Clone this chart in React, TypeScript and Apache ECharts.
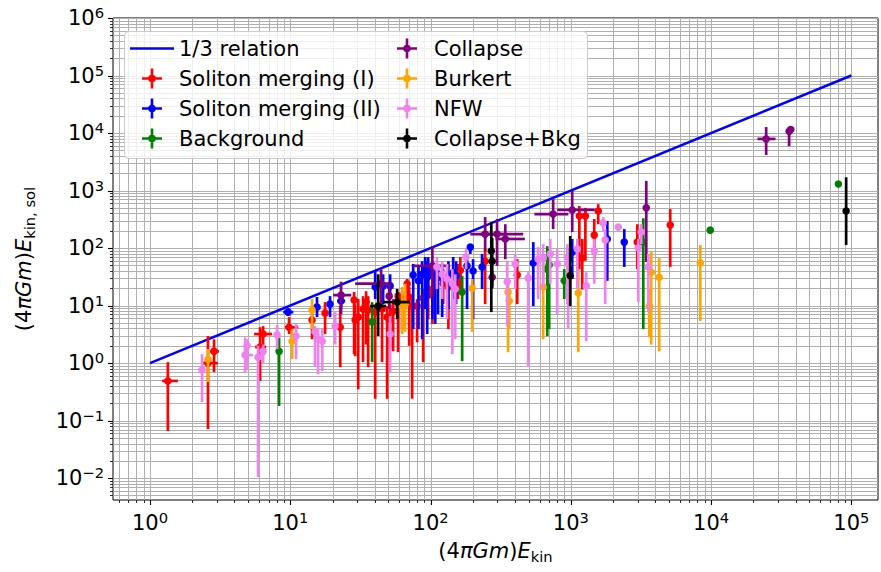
import React, { useEffect, useRef } from "react";
import * as echarts from "echarts";

// Each point: [x, y, yLow, yHigh, xLow?, xHigh?]
const relationX = [1, 100000];
const relationY = [1, 100000];

const solitonMergingI: number[][] = [
  [1.34, 0.49, 0.066, 1.04, 1.22, 1.58],
  [2.59, 1.0, 0.071, 2.95, 2.39, 3.05],
  [2.86, 1.6, 0.7, 2.6, 2.68, 3.1],
  [6.09, 1.9, 0.49, 4.2, 5.61, 6.72],
  [6.4, 3.2, 2.0, 4.4, 5.52, 7.42],
  [9.8, 4.2, 3.2, 6.3, 9.18, 11.4],
  [14.3, 5.6, 2.6, 8.7],
  [17.7, 7.4, 3.2, 11.5],
  [22.7, 4.2, 0.85, 9.8],
  [28.5, 12.5, 1.43, 17.2],
  [29.0, 5.6, 1.32, 10.6],
  [30.5, 6.3, 0.35, 13.0],
  [33.0, 8.7, 1.04, 14.6],
  [34.7, 11.5, 2.1, 17.8],
  [35.9, 8.4, 0.85, 14.6],
  [40.3, 7.7, 0.24, 9.8],
  [45.1, 8.7, 1.04, 13.0],
  [49.0, 6.3, 0.24, 9.8],
  [51.5, 5.8, 1.75, 10.6],
  [54.1, 8.0, 1.6, 13.0],
  [58.7, 14.6, 1.55, 17.2],
  [62.7, 13.0, 3.9, 17.8],
  [68.1, 24, 9.8, 29],
  [70.4, 14.1, 2.0, 21],
  [73.9, 9.8, 0.24, 13.0],
  [80.2, 9.8, 2.3, 13.0],
  [88.5, 13.5, 1.04, 19.4],
  [96.1, 19.4, 5.8, 35],
  [103, 15.2, 4.8, 24],
  [123, 24, 10.6, 43],
  [134, 21, 3.9, 35],
  [157, 33, 13.0, 53],
  [163, 41, 19.4, 70],
  [245, 59, 10.6, 96],
  [415, 34, 10.6, 64],
  [1150, 360, 43, 540],
  [1270, 360, 60, 500],
  [1206, 67, 19, 144],
  [1469, 168, 64, 320],
  [1568, 440, 260, 580],
  [2977, 127, 43, 260],
  [5113, 251, 47, 477],
];

const solitonMergingII: number[][] = [
  [9.64, 7.7, 6.6, 9.1, 8.9, 10.5],
  [15.5, 9.4, 6.3, 14.1],
  [19.2, 10.6, 6.3, 14.6],
  [23, 12.0, 8.7, 15.2, 21.6, 24.6],
  [40.3, 21, 13.0, 40],
  [45.9, 22, 10.6, 35],
  [51.5, 22, 13.0, 35],
  [75.2, 34, 3.9, 53],
  [82, 27, 3.9, 47],
  [87.1, 35, 2.6, 59],
  [91.5, 43, 8.7, 70],
  [94.6, 31, 3.2, 59],
  [96.1, 40, 13.0, 70],
  [103, 33, 5.8, 59],
  [108, 27, 4.8, 47],
  [113, 35, 7.1, 53],
  [121, 30, 6.3, 53],
  [134, 33, 8.7, 59],
  [145, 38, 13.0, 70],
  [152, 33, 10.6, 59],
  [182, 49, 8.7, 79],
  [192, 104, 79, 118],
  [201, 40, 5.8, 64],
  [233, 47, 19.4, 79],
  [540, 55, 9.8, 127],
  [1023, 85, 29, 144],
  [1820, 144, 27, 295],
  [2405, 127, 47, 214],
];

const background: number[][] = [
  [8.32, 1.6, 0.18, 2.8],
  [38.3, 5.2, 1.04, 11.5],
  [168, 17.2, 1.08, 33],
  [679, 43, 2.95, 108],
  [701, 51, 3.9, 96],
  [897, 27, 13.0, 43],
  [3284, 127, 3.9, 330],
  [9862, 205, 190, 220],
  [80800, 1300, 1200, 1400],
];

const collapse: number[][] = [
  [23, 15.2, 7.1, 26, 20.2, 27.2],
  [44.4, 24, 9.8, 43, 29, 51.5],
  [50.7, 14.6, 8.7, 26],
  [103, 49, 14.6, 108, 75.2, 138],
  [245, 175, 89, 346, 192, 352],
  [298, 175, 49, 320, 226, 458],
  [341, 144, 64, 260, 290, 470],
  [275, 31, 22, 40],
  [748, 390, 214, 710, 550, 960],
  [1023, 460, 190, 980, 800, 1480],
  [3451, 500, 57, 1470],
  [24700, 7900, 4160, 12700, 21400, 28800],
  [36000, 10700, 5900, 12700],
  [37000, 11500, 10000, 12700],
];

const burkert: number[][] = [
  [2.59, 1.17, 0.47, 1.75],
  [10.3, 2.4, 1.17, 3.9],
  [14.3, 8.4, 3.9, 13.0],
  [62.7, 9.8, 3.2, 21],
  [65.9, 10.6, 3.5, 24],
  [198, 20, 3.5, 29],
  [357, 17.2, 1.55, 26],
  [364, 12.0, 3.9, 19.4],
  [635, 21, 2.6, 64],
  [1130, 16.5, 1.55, 43],
  [3623, 9.8, 2.8, 19.4],
  [3743, 38, 2.1, 89],
  [4268, 31, 1.6, 67],
  [8375, 55, 5.4, 113],
];

const nfw: number[][] = [
  [2.35, 0.76, 0.21, 1.43],
  [4.76, 1.38, 0.7, 2.8, 4.53, 5.43],
  [4.92, 2.0, 0.79, 2.6],
  [5.89, 1.27, 0.0104, 2.0],
  [6.4, 1.6, 1.0, 2.1],
  [8.05, 3.1, 1.75, 4.6],
  [11.0, 2.95, 1.17, 4.8],
  [15.0, 3.5, 0.89, 4.4],
  [15.8, 2.6, 0.64, 3.9],
  [16.9, 2.4, 0.73, 3.9],
  [20.9, 4.4, 2.1, 7.7],
  [51.5, 3.2, 0.7, 6.6],
  [111, 47, 19.4, 70],
  [121, 35, 13.0, 59],
  [131, 29, 5.8, 53],
  [143, 24, 1.43, 43],
  [150, 19.4, 2.6, 35],
  [179, 70, 43, 96],
  [352, 26, 4.4, 59],
  [401, 53, 19.4, 79],
  [497, 30, 0.89, 38],
  [585, 64, 13.0, 104],
  [635, 67, 19.4, 117],
  [713, 79, 24, 144],
  [800, 53, 7.1, 96],
  [943, 70, 10.6, 117],
  [958, 53, 3.9, 96],
  [1112, 96, 19.4, 144],
  [1288, 22, 2.4, 38],
  [1469, 89, 24, 144],
  [1702, 272, 196, 346],
  [1758, 138, 10.6, 214],
  [2178, 232, 200, 260],
  [3027, 100, 11.5, 144],
  [3177, 190, 117, 261],
  [3565, 47, 7.7, 79],
];

const collapseBkg: number[][] = [
  [42.3, 9.8, 2.95, 35, 37.1, 48.2],
  [57.8, 11.5, 5.8, 19.4, 45.9, 71.5],
  [271, 89, 7.7, 283],
  [275, 59, 20, 150],
  [990, 33, 9.8, 162],
  [91800, 440, 113, 1700],
];

const xTickExponents = [0, 1, 2, 3, 4, 5];
const yTickExponents = [-2, -1, 0, 1, 2, 3, 4, 5, 6];

const FONT = "DejaVu Sans";
const FS = 21;
const FS_SMALL = 14.7;
const X_RANGE = [-0.264, 5.19];
const Y_RANGE = [-2.38, 6];

const lg = Math.log10;

function toLog(p: number[]) {
  const [x, y, ylo, yhi, xlo, xhi] = p;
  return [lg(x), lg(y), lg(ylo), lg(yhi), lg(xlo ?? x), lg(xhi ?? x)];
}

const errorSeriesDefs = [
  { name: "Soliton merging (I)", color: "#ff0000", data: solitonMergingI },
  { name: "Soliton merging (II)", color: "#0000ff", data: solitonMergingII },
  { name: "Background", color: "#008000", data: background },
  { name: "Collapse", color: "#800080", data: collapse },
  { name: "Burkert", color: "#ffa500", data: burkert },
  { name: "NFW", color: "#ee82ee", data: nfw },
  { name: "Collapse+Bkg", color: "#000000", data: collapseBkg },
];

const CROSS_ICON =
  "path://M0,8.7L20,8.7L20,11.3L0,11.3Z M8.7,0L11.3,0L11.3,20L8.7,20Z M13.8,10A3.8,3.8,0,1,1,6.2,10A3.8,3.8,0,1,1,13.8,10Z";
const LINE_ICON = "path://M0,0L44,0L44,2.5L0,2.5Z";

const crisp = (v: number) => Math.round(v) + 0.5;

function majorLogs(lo: number, hi: number) {
  const out: number[] = [];
  for (let d = Math.ceil(lo); d <= Math.floor(hi); d++) out.push(d);
  return out;
}
function minorLogs(lo: number, hi: number) {
  const out: number[] = [];
  for (let d = Math.floor(lo); d <= Math.ceil(hi); d++) {
    for (let k = 2; k <= 9; k++) {
      const v = d + Math.log10(k);
      if (v > lo && v < hi) out.push(v);
    }
  }
  return out;
}

function gridRender(params: any, api: any) {
  if (params.dataIndex !== 0) return null;
  const children: any[] = [];
  const [x0, x1] = X_RANGE;
  const [y0, y1] = Y_RANGE;
  const gridStyle = { stroke: "#b0b0b0", lineWidth: 1 };
  const xs = [...minorLogs(x0, x1), ...majorLogs(x0, x1)];
  const ys = [...minorLogs(y0, y1), ...majorLogs(y0, y1)];
  xs.forEach((v) => {
    const a = api.coord([v, y0]);
    const b = api.coord([v, y1]);
    const x = crisp(a[0]);
    children.push({ type: "line", shape: { x1: x, y1: a[1], x2: x, y2: b[1] }, style: gridStyle });
  });
  ys.forEach((v) => {
    const a = api.coord([x0, v]);
    const b = api.coord([x1, v]);
    const y = crisp(a[1]);
    children.push({ type: "line", shape: { x1: a[0], y1: y, x2: b[0], y2: y }, style: gridStyle });
  });
  const addXTick = (v: number, len: number, w: number) => {
    const a = api.coord([v, y0]);
    const x = crisp(a[0]);
    children.push({ type: "line", shape: { x1: x, y1: a[1], x2: x, y2: a[1] + len }, style: { stroke: "#000", lineWidth: w } });
  };
  const addYTick = (v: number, len: number, w: number) => {
    const a = api.coord([x0, v]);
    const y = crisp(a[1]);
    children.push({ type: "line", shape: { x1: a[0] - len, y1: y, x2: a[0], y2: y }, style: { stroke: "#000", lineWidth: w } });
  };
  minorLogs(x0, x1).forEach((v) => addXTick(v, 3, 0.8));
  majorLogs(x0, x1).forEach((v) => addXTick(v, 5, 1.1));
  minorLogs(y0, y1).forEach((v) => addYTick(v, 3, 0.8));
  majorLogs(y0, y1).forEach((v) => addYTick(v, 5, 1.1));
  return { type: "group", children };
}

function makeErrRender(color: string) {
  return (params: any, api: any) => {
    const x = api.value(0);
    const y = api.value(1);
    const ylo = api.value(2);
    const yhi = api.value(3);
    const xlo = api.value(4);
    const xhi = api.value(5);
    const c = api.coord([x, y]);
    const lo = api.coord([x, ylo]);
    const hi = api.coord([x, yhi]);
    const children: any[] = [
      {
        type: "line",
        shape: { x1: c[0], y1: lo[1], x2: c[0], y2: hi[1] },
        style: { stroke: color, lineWidth: 2.7 },
      },
    ];
    if (xhi - xlo > 1e-9) {
      const a = api.coord([xlo, y]);
      const b = api.coord([xhi, y]);
      children.push({
        type: "line",
        shape: { x1: a[0], y1: c[1], x2: b[0], y2: c[1] },
        style: { stroke: color, lineWidth: 2.7 },
      });
    }
    children.push({ type: "circle", shape: { cx: c[0], cy: c[1], r: 3.8 }, style: { fill: color } });
    return { type: "group", children };
  };
}

const supFormatter = (v: number) => {
  const e = Math.round(v);
  const s = e < 0 ? "\u2212" + Math.abs(e) : String(e);
  return "10{sup|" + s + "}";
};

const labelRich = {
  sup: { fontSize: FS_SMALL, lineHeight: 16, verticalAlign: "top", fontFamily: FONT, color: "#000" },
};

const nameRich = {
  n: { fontSize: FS, lineHeight: 26, fontFamily: FONT, color: "#000" },
  i: { fontSize: FS, lineHeight: 26, fontFamily: FONT, fontStyle: "italic", color: "#000" },
  s: { fontSize: FS_SMALL, lineHeight: 14, fontFamily: FONT, color: "#000", verticalAlign: "bottom" },
};

const legendText = { fontSize: FS, fontFamily: FONT, color: "#000", lineHeight: 20 };

function buildOption() {
  return {
    animation: false,
    backgroundColor: "#ffffff",
    grid: {
      left: 113,
      right: 3,
      top: 18,
      bottom: 72,
      show: true,
      borderColor: "#000",
      borderWidth: 1,
      backgroundColor: "transparent",
    },
    xAxis: {
      type: "value",
      min: X_RANGE[0],
      max: X_RANGE[1],
      axisLine: { show: false },
      axisTick: { show: false },
      splitLine: { show: false },
      axisLabel: {
        customValues: xTickExponents,
        formatter: supFormatter,
        rich: labelRich,
        fontSize: FS,
        lineHeight: 26,
        fontFamily: FONT,
        color: "#000",
        margin: 10,
      },
      name: "{n|(4}{i|πGm}{n|)}{i|E}{s|kin}",
      nameLocation: "middle",
      nameGap: 37,
      nameTextStyle: { fontSize: FS, fontFamily: FONT, color: "#000", rich: nameRich },
    },
    yAxis: {
      type: "value",
      min: Y_RANGE[0],
      max: Y_RANGE[1],
      axisLine: { show: false },
      axisTick: { show: false },
      splitLine: { show: false },
      axisLabel: {
        customValues: yTickExponents,
        formatter: supFormatter,
        rich: labelRich,
        fontSize: FS,
        lineHeight: 26,
        fontFamily: FONT,
        color: "#000",
        margin: 9,
      },
      name: "{n|(4}{i|πGm}{n|)}{i|E}{s|kin, sol}",
      nameLocation: "middle",
      nameRotate: 90,
      nameGap: 76,
      nameTextStyle: { fontSize: FS, fontFamily: FONT, color: "#000", rich: nameRich },
    },
    graphic: [
      {
        type: "rect",
        z: 10,
        silent: true,
        shape: { x: 124.5, y: 31.5, width: 463, height: 127, r: 4 },
        style: { fill: "rgba(255,255,255,0.8)", stroke: "#cccccc", lineWidth: 1 },
      },
    ],
    legend: [
      {
        orient: "vertical",
        left: 130,
        top: 38,
        padding: 0,
        itemWidth: 44,
        itemHeight: 20,
        itemGap: 9,
        selectedMode: false,
        z: 11,
        textStyle: legendText,
        data: [
          { name: "1/3 relation", icon: LINE_ICON },
          { name: "Soliton merging (I)", icon: CROSS_ICON },
          { name: "Soliton merging (II)", icon: CROSS_ICON },
          { name: "Background", icon: CROSS_ICON },
        ],
      },
      {
        orient: "vertical",
        left: 397,
        top: 38,
        padding: 0,
        itemWidth: 44,
        itemHeight: 20,
        itemGap: 9,
        selectedMode: false,
        z: 11,
        textStyle: legendText,
        data: [
          { name: "Collapse", icon: CROSS_ICON },
          { name: "Burkert", icon: CROSS_ICON },
          { name: "NFW", icon: CROSS_ICON },
          { name: "Collapse+Bkg", icon: CROSS_ICON },
        ],
      },
    ],
    series: [
      {
        type: "custom",
        name: "grid",
        silent: true,
        z: 1,
        clip: false,
        renderItem: gridRender,
        data: [[X_RANGE[0], Y_RANGE[0]]],
      },
      {
        type: "line",
        name: "1/3 relation",
        z: 2,
        symbol: "none",
        showSymbol: false,
        lineStyle: { color: "#0000ff", width: 2.5 },
        itemStyle: { color: "#0000ff" },
        data: relationX.map((x, i) => [lg(x), lg(relationY[i])]),
      },
      ...errorSeriesDefs.map((s) => ({
        type: "custom",
        name: s.name,
        z: 3,
        itemStyle: { color: s.color },
        encode: { x: [0, 4, 5], y: [1, 2, 3] },
        renderItem: makeErrRender(s.color),
        data: s.data.map(toLog),
      })),
    ],
  };
}

export default function App() {
  const ref = useRef<HTMLDivElement>(null);
  useEffect(() => {
    if (!ref.current) return;
    const chart = echarts.init(ref.current, null, { renderer: "svg" });
    chart.setOption(buildOption() as any);
    return () => chart.dispose();
  }, []);
  return (
    <div
      ref={ref}
      style={{ position: "fixed", left: 0, top: 0, width: 881, height: 572, background: "#fff" }}
    />
  );
}
